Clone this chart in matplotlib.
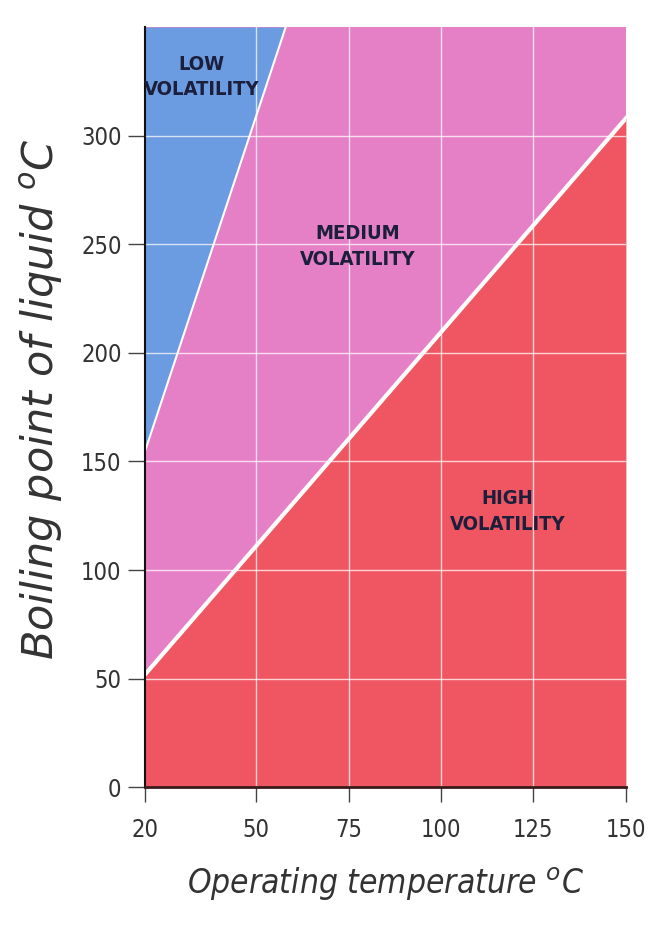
import matplotlib.pyplot as plt

# boundary lines
temp = [20, 150]
high_line = [52, 308]          # below this -> high volatility
low_x = [20, 58]
low_y = [155, 350]             # above this -> low volatility

xticks = [20, 50, 75, 100, 125, 150]
yticks = [0, 50, 100, 150, 200, 250, 300]

blue = '#6b9be0'
pink = '#e680c6'
red = '#ef5662'
ink = '#1c1f3c'

fig = plt.figure(figsize=(6.63, 9.35), dpi=100)
ax = fig.add_axes([0.219, 0.158, 0.725, 0.813])

ax.fill_between([20, 150], 0, 350, color=pink, zorder=0, lw=0)
ax.fill_between(temp, 0, high_line, color=red, zorder=1, lw=0)
ax.fill_between(low_x, low_y, 350, color=blue, zorder=1, lw=0)

# white grid over the fills
for x in xticks[1:-1]:
    ax.axvline(x, color='white', lw=1, alpha=0.75, zorder=2)
for y in yticks[1:]:
    ax.axhline(y, color='white', lw=1, alpha=0.75, zorder=2)

ax.plot(temp, high_line, color='white', lw=3, zorder=3)
ax.plot(low_x, low_y, color='white', lw=1.5, zorder=3)

ax.set_xlim(20, 150)
ax.set_ylim(0, 350)
ax.set_xticks(xticks)
ax.set_yticks(yticks)

for s in ['top', 'right']:
    ax.spines[s].set_visible(False)
ax.spines['left'].set_color('#111111')
ax.spines['left'].set_linewidth(1.5)
ax.spines['bottom'].set_color('#3a1a1a')
ax.spines['bottom'].set_linewidth(2)
ax.spines['left'].set_zorder(4)
ax.spines['bottom'].set_zorder(4)

ax.tick_params(axis='y', length=12, width=1, color='#444444',
               labelcolor='#333333', pad=5)
ax.tick_params(axis='x', length=11, width=1, color='#444444',
               labelcolor='#333333', pad=11)
for t in ax.get_xticklabels() + ax.get_yticklabels():
    t.set_fontsize(17)
    t.set_fontstretch('condensed')

plt.rcParams['mathtext.fontset'] = 'dejavusans'
ax.set_xlabel('Operating temperature $^{o}$C', fontsize=24, style='italic',
              fontstretch='condensed', color='#333333', labelpad=17)
ax.set_ylabel('Boiling point of liquid $^{o}$C', fontsize=31, style='italic',
              color='#333333')
ax.yaxis.set_label_coords(-0.166, 0.51)

lab = dict(ha='center', va='center', color=ink, fontsize=14.5, fontweight='bold',
           fontstretch='condensed', linespacing=1.45, zorder=5)
ax.text(35.3, 327, 'LOW\nVOLATILITY', **lab)
ax.text(77.5, 249, 'MEDIUM\nVOLATILITY', **lab)
ax.text(118, 127, 'HIGH\nVOLATILITY', **lab)

fig.savefig('out.png')
